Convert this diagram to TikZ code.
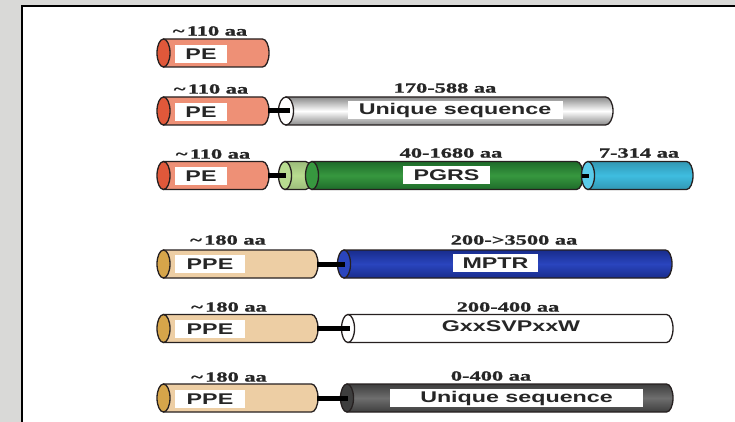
\documentclass[tikz,border=0pt]{standalone}
\usepackage{fontspec}
\newfontfamily\labfont[FakeStretch=1.5]{Liberation Sans}
\newfontfamily\numfont[FakeStretch=1.6,FakeBold=1.2]{Liberation Serif}
\definecolor{edge}{HTML}{262020}
\definecolor{bgout}{HTML}{D9D9D7}
\definecolor{pebody}{HTML}{EE9076}
\definecolor{pecap}{HTML}{E0583A}
\definecolor{ppebody}{HTML}{EDCEA4}
\definecolor{ppecap}{HTML}{D6A54A}
\definecolor{lgreen}{HTML}{B8DC90}
\definecolor{dgreen}{HTML}{1E6A2A}
\definecolor{mgreen}{HTML}{37983F}
\definecolor{cyanbody}{HTML}{3EBDE0}
\definecolor{cyanlt}{HTML}{5ACBEA}
\definecolor{dblue}{HTML}{182C8C}
\definecolor{mblue}{HTML}{2A45BE}
\definecolor{dgray}{HTML}{3E3E3E}
\definecolor{mgray}{HTML}{6E6E6E}
\definecolor{sgray}{HTML}{8A8A8A}
\newcommand\mycyl[8]{%
  \path[draw=edge,line width=1.3pt,top color=#6,bottom color=#6,middle color=#7]
    ({#1},{#3-#4}) -- ({#2-#5},{#3-#4})
    arc[start angle=90,end angle=-90,x radius=#5pt,y radius=#4pt]
    -- ({#1},{#3+#4}) -- cycle;
  \path[draw=edge,line width=1.3pt,fill=#8] ({#1},{#3}) ellipse[x radius=#5pt,y radius=#4pt];
}
\tikzset{
  labbox/.style={fill=white,inner sep=0pt,minimum height=18pt,font=\labfont\bfseries\fontsize{15.5}{15.5}\selectfont,text=black!85},
  plainlab/.style={inner sep=0pt,font=\labfont\bfseries\fontsize{15.5}{15.5}\selectfont,text=black!85},
  sizelab/.style={inner sep=0pt,font=\numfont\bfseries\fontsize{14}{14}\selectfont,text=black!85},
  linker/.style={line width=5pt,black}
}
\begin{document}
\begin{tikzpicture}[x=1pt,y=-1pt]
\useasboundingbox (0,0) rectangle (735,422);
\fill[bgout] (0,0) rectangle (735,422);
\fill[white] (22,6) rectangle (740,430);
\draw[black,line width=2pt] (22,430) -- (22,6) -- (740,6);

% ---------- row 1
\mycyl{163.5}{269}{53}{14}{6.5}{pebody}{pebody}{pecap}
\node[labbox,minimum width=52pt] (pe1) at (201,54) {PE};
\node[sizelab] (s1) at (210,31) {\textasciitilde\,110 aa};

% ---------- row 2
\mycyl{163.5}{269}{111}{14}{6.5}{pebody}{pebody}{pecap}
\mycyl{286}{613}{111}{14}{7.5}{sgray}{white}{white}
\coordinate (r2a) at (268,111);
\coordinate (r2b) at (290,111);
\draw[linker] (r2a) -- (r2b);
\node[labbox,minimum width=215pt] (u2) at (455,110) {Unique sequence};
\node[labbox,minimum width=52pt] (pe2) at (201,112) {PE};
\node[sizelab] (s2) at (211,89) {\textasciitilde\,110 aa};
\node[sizelab] (s2b) at (445,88) {170-588 aa};

% ---------- row 3
\mycyl{163.5}{269}{175.5}{14}{6.5}{pebody}{pebody}{pecap}
\mycyl{285}{312}{175.5}{14}{6.5}{lgreen!85!black}{lgreen}{lgreen}
\mycyl{312}{583}{175.5}{14}{6.5}{dgreen}{mgreen}{mgreen}
\mycyl{588}{693}{175.5}{14}{6.5}{cyanbody!80!black}{cyanbody}{cyanlt}
\coordinate (r3a) at (268,175.5);
\coordinate (r3b) at (286,175.5);
\draw[linker] (r3a) -- (r3b);
\coordinate (r3c) at (582,175.5);
\coordinate (r3d) at (589,175.5);
\draw[linker,line width=4pt] (r3c) -- (r3d);
\node[labbox,minimum width=52pt] (pe3) at (201,176) {PE};
\node[labbox,minimum width=87pt] (pg) at (446.5,175) {PGRS};
\node[sizelab] (s3) at (213,154) {\textasciitilde\,110 aa};
\node[sizelab] (s3b) at (451,153) {40-1680 aa};
\node[sizelab] (s3c) at (639,153) {7-314 aa};

% ---------- row 4
\mycyl{163.5}{318}{264}{14}{6.5}{ppebody}{ppebody}{ppecap}
\mycyl{344}{672}{264}{14}{6.5}{dblue}{mblue}{mblue}
\coordinate (r4a) at (317,264);
\coordinate (r4b) at (345,264);
\draw[linker] (r4a) -- (r4b);
\node[labbox,minimum width=70pt] (ppe4) at (210,264) {PPE};
\node[labbox,minimum width=85pt] (mp) at (495.5,263) {MPTR};
\node[sizelab] (s4) at (228,240) {\textasciitilde\,180 aa};
\node[sizelab] (s4b) at (514,240) {200->3500 aa};

% ---------- row 5
\mycyl{163.5}{318}{328.5}{14}{6.5}{ppebody}{ppebody}{ppecap}
\mycyl{348}{673}{328.5}{14}{6.5}{white}{white}{white}
\coordinate (r5a) at (317,328.5);
\coordinate (r5b) at (350,328.5);
\draw[linker] (r5a) -- (r5b);
\node[labbox,minimum width=70pt] (ppe5) at (210,329) {PPE};
\node[plainlab] (gx) at (511,326) {GxxSVPxxW};
\node[sizelab] (s5) at (229,307) {\textasciitilde\,180 aa};
\node[sizelab] (s5b) at (508,307) {200-400 aa};

% ---------- row 6
\mycyl{163.5}{318}{398}{14}{6.5}{ppebody}{ppebody}{ppecap}
\mycyl{347}{673}{398}{14}{6.5}{dgray}{mgray}{dgray}
\coordinate (r6a) at (317,398);
\coordinate (r6b) at (348,398);
\draw[linker] (r6a) -- (r6b);
\node[labbox,minimum width=70pt] (ppe6) at (210,399) {PPE};
\node[labbox,minimum width=253pt] (u6) at (516.5,398) {Unique sequence};
\node[sizelab] (s6) at (229,377) {\textasciitilde\,180 aa};
\node[sizelab] (s6b) at (491,376) {0-400 aa};
\end{tikzpicture}
\end{document}
